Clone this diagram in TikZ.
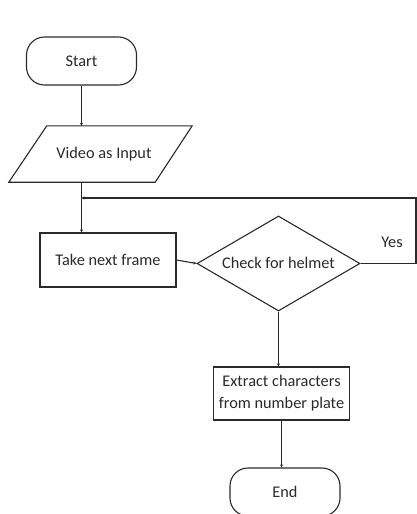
\documentclass[tikz,border=0pt]{standalone}
\usepackage{fontspec}
\setmainfont{Carlito}
\usetikzlibrary{shapes.geometric,arrows.meta}
\definecolor{ink}{HTML}{2A2A2A}
\begin{document}
\begin{tikzpicture}[x=1pt,y=-1pt,
  every node/.style={font=\fontsize{16.3}{22}\selectfont, text=ink, inner sep=0pt},
  line/.style={draw=ink, line width=1.1pt},
  arr/.style={line, -{Stealth[length=3pt,width=3pt]}},
  terminal/.style={line, rounded corners=18pt, minimum width=110pt, minimum height=48pt},
  procbox/.style={line, minimum width=136pt, minimum height=54pt, align=center},
  decision/.style={line, diamond, aspect=1.716, minimum width=163pt, minimum height=95pt}
]
\useasboundingbox (0,0) rectangle (417,514);
\fill[white] (0,0) rectangle (417,514);

\node[terminal] (start) at (81.5,61) {Start};
\node[minimum width=183pt, minimum height=56pt] (input) at (100.5,154) {};
\draw[line] (input.south west) -- ([xshift=38pt]input.north west) -- (input.north east) -- ([xshift=-37pt]input.south east) -- cycle;
\node at (104,154) {Video as Input};
\node[procbox] (take) at (108,260) {Take next frame};
\node[decision] (check) at (278.5,263.5) {\raisebox{2pt}{Check for helmet}};
\node[procbox, minimum height=53pt] (extract) at (281.5,393.5) {Extract characters\\from number plate};
\node[terminal] (end) at (285,492) {End};
\node (yes) at (392,242) {Yes};

\coordinate (c1) at (416,263.5);
\coordinate (c2) at (416,198);

\draw[arr] (start.south) -- (start.south |- input.north);
\draw[arr] (start.south |- input.south) -- (start.south |- take.north);
\draw[arr] (take.east) -- (check.west);
\draw[arr] (check.south) -- (check.south |- extract.north);
\draw[arr] (extract.south) -- (extract.south |- end.north);
\draw[arr] (check.east) -- (c1) -- (c2) -- (c2 -| start.south);
\end{tikzpicture}
\end{document}
